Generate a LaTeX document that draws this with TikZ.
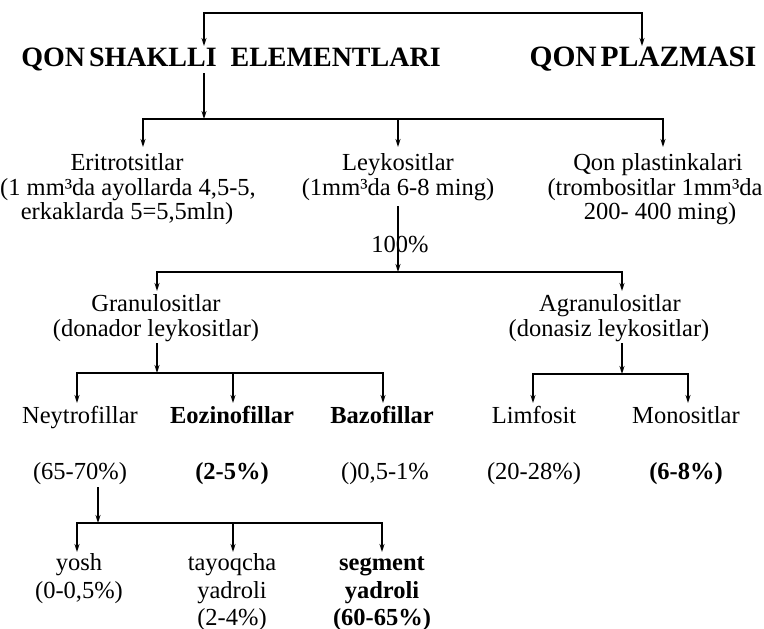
\documentclass[tikz,border=0pt]{standalone}
\usepackage{fontspec}
\setmainfont{Liberation Serif}
\usetikzlibrary{arrows.meta}
\begin{document}
\begin{tikzpicture}[x=1pt,y=-1pt,
  lbl/.style={font=\fontsize{24.5}{26}\selectfont, anchor=base, inner sep=0pt},
  lblb/.style={font=\fontsize{24.5}{26}\selectfont\bfseries, anchor=base, inner sep=0pt},
  ttl/.style={font=\fontsize{28}{30}\selectfont\bfseries, anchor=base, inner sep=0pt},
  ln/.style={line width=1.6pt, line cap=rect},
  arr/.style={line width=1.6pt, -{Stealth[length=8pt,width=5pt]}}]
\useasboundingbox (0,0) rectangle (764,629);
% ---- titles
\node[ttl] (qse) at (231,66) {QON\hspace{4pt}SHAKLLI\hspace{14pt}ELEMENTLARI};
\node[ttl, font=\fontsize{29.5}{31}\selectfont\bfseries] (qp) at (643,66) {QON\hspace{4pt}PLAZMASI};
\coordinate (t1) at (204,13); \coordinate (t2) at (642,13);
\coordinate (a1) at (204,46); \coordinate (a2) at (642,46);
\draw[ln] (t1) -- (t2);
\draw[arr] (t1) -- (a1);
\draw[arr] (t2) -- (a2);
% ---- level 2
\coordinate (s1) at (204,73); \coordinate (b1) at (204,119);
\draw[arr] (s1) -- (b1);
\coordinate (h1l) at (143,119); \coordinate (h1m) at (398,119); \coordinate (h1r) at (663,119);
\draw[ln] (h1l) -- (h1r);
\coordinate (e1) at (143,147); \coordinate (e2) at (398,147); \coordinate (e3) at (663,147);
\draw[arr] (h1l) -- (e1);
\draw[arr] (h1m) -- (e2);
\draw[arr] (h1r) -- (e3);
\node[lbl] (eri1) at (127,170) {Eritrotsitlar};
\node[lbl] (eri2) at (128,195) {(1 mm³da ayollarda 4,5-5,};
\node[lbl] (eri3) at (127,219) {erkaklarda 5=5,5mln)};
\node[lbl] (ley1) at (398,170) {Leykositlar};
\node[lbl] (ley2) at (398,195) {(1mm³da 6-8 ming)};
\node[lbl] (qpl1) at (658,170) {Qon plastinkalari};
\node[lbl] (qpl2) at (655,195) {(trombositlar 1mm³da};
\node[lbl] (qpl3) at (660,219) {200- 400 ming)};
% ---- level 3
\coordinate (s2) at (398,206); \coordinate (b2) at (398,272);
\draw[arr] (s2) -- (b2);
\node[lbl] (pct) at (400,252) {100\%};
\coordinate (h2l) at (157,272); \coordinate (h2r) at (622,272);
\draw[ln] (h2l) -- (h2r);
\coordinate (g1) at (157,291); \coordinate (g2) at (622,291);
\draw[arr] (h2l) -- (g1);
\draw[arr] (h2r) -- (g2);
\node[lbl] (gra1) at (156,311) {Granulositlar};
\node[lbl] (gra2) at (156,336) {(donador leykositlar)};
\node[lbl] (agr1) at (610,311) {Agranulositlar};
\node[lbl] (agr2) at (609,336) {(donasiz leykositlar)};
% ---- level 4 left
\coordinate (s3) at (157,343); \coordinate (b3) at (157,373);
\draw[arr] (s3) -- (b3);
\coordinate (h3l) at (77,373); \coordinate (h3m) at (233,373); \coordinate (h3r) at (383,373);
\draw[ln] (h3l) -- (h3r);
\coordinate (n1) at (77,403); \coordinate (n2) at (233,403); \coordinate (n3) at (383,403);
\draw[arr] (h3l) -- (n1);
\draw[arr] (h3m) -- (n2);
\draw[arr] (h3r) -- (n3);
% ---- level 4 right
\coordinate (s4) at (622,343); \coordinate (b4) at (622,374);
\draw[arr] (s4) -- (b4);
\coordinate (h4l) at (533,374); \coordinate (h4r) at (688,374);
\draw[ln] (h4l) -- (h4r);
\coordinate (m1) at (533,403); \coordinate (m2) at (688,403);
\draw[arr] (h4l) -- (m1);
\draw[arr] (h4r) -- (m2);
\node[lbl] (ney) at (80,423) {Neytrofillar};
\node[lblb] (eoz) at (232,423) {Eozinofillar};
\node[lblb] (baz) at (382,423) {Bazofillar};
\node[lbl] (lim) at (534,423) {Limfosit};
\node[lbl] (mon) at (686,423) {Monositlar};
\node[lbl] (p1) at (80,479) {(65-70\%)};
\node[lblb] (p2) at (232,479) {(2-5\%)};
\node[lbl] (p3) at (385,479) {()0,5-1\%};
\node[lbl] (p4) at (534,479) {(20-28\%)};
\node[lblb] (p5) at (686,479) {(6-8\%)};
% ---- level 5
\coordinate (s5) at (98,487); \coordinate (b5) at (98,523);
\draw[arr] (s5) -- (b5);
\coordinate (h5l) at (77,523); \coordinate (h5m) at (233,523); \coordinate (h5r) at (382,523);
\draw[ln] (h5l) -- (h5r);
\coordinate (y1) at (77,552); \coordinate (y2) at (233,552); \coordinate (y3) at (382,552);
\draw[arr] (h5l) -- (y1);
\draw[arr] (h5m) -- (y2);
\draw[arr] (h5r) -- (y3);
\node[lbl] (yo1) at (79,570) {yosh};
\node[lbl] (yo2) at (79,598) {(0-0,5\%)};
\node[lbl] (ta1) at (232,570) {tayoqcha};
\node[lbl] (ta2) at (232,598) {yadroli};
\node[lbl] (ta3) at (232,625) {(2-4\%)};
\node[lblb] (se1) at (382,570) {segment};
\node[lblb] (se2) at (382,598) {yadroli};
\node[lblb] (se3) at (382,625) {(60-65\%)};
\end{tikzpicture}
\end{document}
